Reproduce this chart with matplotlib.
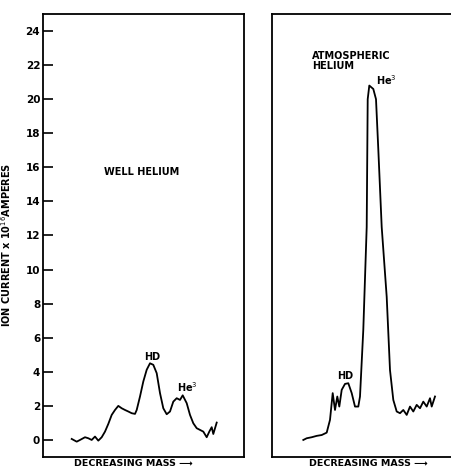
import matplotlib
matplotlib.use("Agg")
import matplotlib.pyplot as plt

# Scan position (arbitrary units) and ion current (x10^-16 A)
well_x = [28.7, 33.7, 37, 42, 45.3, 48.7, 52, 55.3, 58.7, 62, 65.3, 68.7, 72, 75.3, 78.7,
          82, 85.3, 88.7, 92, 93.7, 97, 100.3, 103.7, 107, 110.3, 113.7, 117, 120.3, 123.7,
          127, 130.3, 133.7, 137, 139.7, 143.7, 147, 150.3, 153.7, 157, 160.3, 163.7, 166.3,
          168.7, 170.3, 173, 173.7]
well_y = [0.06, -0.1, 0.0, 0.16, 0.1, 0.0, 0.2, -0.04, 0.16, 0.49, 0.94, 1.47, 1.76, 2.0, 1.86,
          1.76, 1.67, 1.57, 1.53, 1.76, 2.55, 3.43, 4.12, 4.5, 4.41, 3.92, 2.75, 1.86, 1.51,
          1.67, 2.25, 2.45, 2.35, 2.62, 2.16, 1.47, 0.98, 0.69, 0.59, 0.49, 0.16, 0.49,
          0.75, 0.35, 0.88, 1.02]

atm_x = [31.3, 34.7, 39.7, 44.7, 49.7, 54.7, 58, 60.7, 63, 65.3, 67.3, 69.7, 73, 76.3, 79.7,
         83, 86.3, 88, 91.3, 94.7, 95.7, 97.3, 101.3, 104, 106.3, 109.7, 114.7, 118, 121.3,
         124.7, 128, 131.3, 134.7, 138, 141.3, 144.7, 148, 151.3, 154.7, 158, 159.7, 163]
atm_y = [0.0, 0.1, 0.16, 0.24, 0.29, 0.43, 1.18, 2.75, 1.76, 2.55, 1.96, 2.94, 3.29, 3.33, 2.75,
         1.96, 1.96, 2.55, 6.47, 12.5, 20.0, 20.8, 20.6, 20.0, 17.06, 12.5, 8.4, 4.1, 2.35,
         1.67, 1.57, 1.76, 1.47, 1.96, 1.67, 2.06, 1.86, 2.25, 1.96, 2.45, 1.96, 2.55]

y_ticks = list(range(0, 25, 2))

W, H = 451, 471
fig = plt.figure(figsize=(W / 100, H / 100), dpi=100)
plt.rcParams['font.family'] = ['DejaVu Sans']

def frac_axes(x0, x1, ytop, ybot):
    return fig.add_axes([x0 / W, 1 - ybot / H, (x1 - x0) / W, (ybot - ytop) / H])

ax1 = frac_axes(43, 244, 14, 457)
ax2 = frac_axes(272, 473, 14, 457)

for ax in (ax1, ax2):
    ax.set_xlim(0, 201)
    ax.set_ylim(-1, 25)
    for s in ax.spines.values():
        s.set_linewidth(1.3)
    ax.set_xticks([])

ax1.plot(well_x, well_y, color='black', lw=1.3)
ax2.plot(atm_x, atm_y, color='black', lw=1.3)

ax1.set_yticks(y_ticks)
ax1.set_yticklabels([str(t) for t in y_ticks], fontsize=7.5, fontweight='bold')
ax1.tick_params(axis='y', direction='in', length=7, width=1.2, pad=2)
ax2.set_yticks([])

ax1.set_ylabel("ION CURRENT x 10$^{16}$AMPERES", fontsize=7, fontweight='bold')
ax1.yaxis.set_label_coords((13 - 43) / 201, (457 - 245) / 443)

tf = dict(fontsize=7, fontweight='bold', color='black')
ax1.text(99, 15.75, "WELL HELIUM", ha='center', va='center', **tf)
ax1.text(109, 4.85, "HD", ha='center', va='center', **tf)
ax1.text(134, 2.82, "He$^3$", ha='left', va='baseline', **tf)
ax1.text(90, -1.1, "DECREASING MASS \u27F6", ha='center', va='top', fontsize=6.8,
         fontweight='bold')

ax2.text(40, 22.85, "ATMOSPHERIC\nHELIUM", ha='left', va='top', linespacing=1.05, **tf)
ax2.text(103.7, 20.82, "He$^3$", ha='left', va='baseline', **tf)
ax2.text(73, 3.75, "HD", ha='center', va='center', **tf)
ax2.text(96, -1.1, "DECREASING MASS \u27F6", ha='center', va='top', fontsize=6.8,
         fontweight='bold')

fig.savefig("out.png", dpi=100)
